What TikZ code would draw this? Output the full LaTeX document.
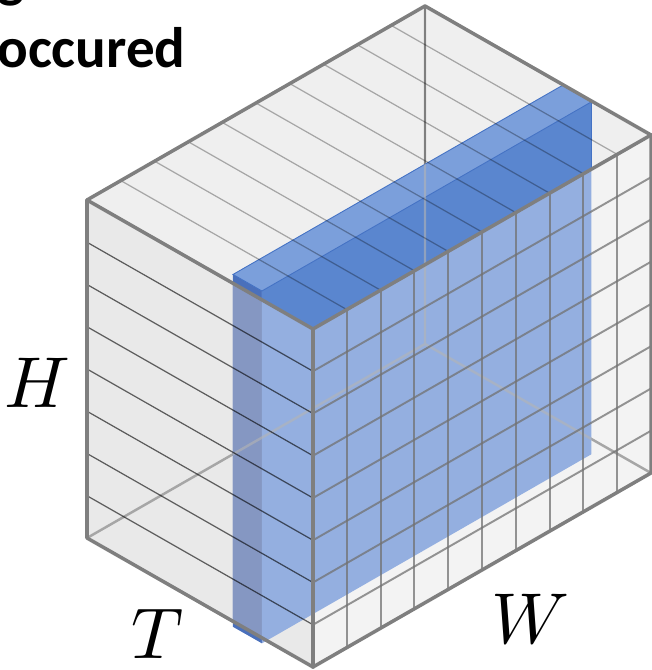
\documentclass[tikz,border=0pt]{standalone}
\usepackage{fontspec}
\usepackage{unicode-math}
\setmathfont{Latin Modern Math}
\newfontfamily\titlefont{Carlito}

\definecolor{edgegray}{HTML}{7F7F7F}
\definecolor{hiddengray}{HTML}{A6A6A6}
\definecolor{hiddenlight}{HTML}{B4B4B4}
\definecolor{leftgray}{HTML}{E9E9E9}
\definecolor{topgray}{HTML}{EFEFEF}
\definecolor{frontgray}{HTML}{F3F3F3}
\definecolor{slabside}{HTML}{4A70BB}
\definecolor{slabsidein}{HTML}{8597C2}
\definecolor{slabtop}{HTML}{7B9FDB}
\definecolor{slabfront}{HTML}{5A86CF}
\definecolor{slabfrontin}{HTML}{94AFE0}
\definecolor{slabrim}{HTML}{4472C4}

\begin{document}
\begin{tikzpicture}[
        x={(0.676cm,0.388cm)},
        y={(4.52cm,-2.58cm)},
        z={(0cm,0.845cm)},
        edge/.style={draw=edgegray, line width=2pt, line join=round, line cap=round},
        hidden/.style={draw=hiddengray, line width=1.4pt},
        leftline/.style={draw=black, draw opacity=0.6, line width=0.7pt},
        topline/.style={draw=black, draw opacity=0.3, line width=0.7pt},
        frontline/.style={draw=edgegray!110, draw opacity=0.75, line width=1.1pt},
        slabedge/.style={draw=slabrim, line width=0.5pt},
        axislabel/.style={font=\fontsize{41}{48}\selectfont, inner sep=0pt},
        titletext/.style={font=\titlefont\bfseries\fontsize{32.5}{40}\selectfont, inner sep=0pt}]

    \useasboundingbox (-1.74cm,-2.64cm) rectangle (11.28cm,10.76cm);

    % Box corners: W along x, T along y, H along z
    \coordinate (bl) at (0,0,0);
    \coordinate (bb) at (10,0,0);
    \coordinate (br) at (10,1,0);
    \coordinate (bf) at (0,1,0);
    \coordinate (tl) at (0,0,8);
    \coordinate (tb) at (10,0,8);
    \coordinate (tr) at (10,1,8);
    \coordinate (tf) at (0,1,8);

    % Slab corners
    \coordinate (s1) at (0,0.646,8.21);
    \coordinate (s2) at (9.75,0.646,8.21);
    \coordinate (s3) at (9.75,0.774,8.21);
    \coordinate (s4) at (0,0.774,8.21);
    \coordinate (s5) at (0,0.774,-0.13);
    \coordinate (s6) at (0,0.646,-0.13);
    \coordinate (s7) at (9.75,0.774,-0.13);

    % Faces of the box
    \fill[leftgray] (bl) -- (bf) -- (tf) -- (tl) -- cycle;
    \fill[topgray] (tl) -- (tb) -- (tr) -- (tf) -- cycle;
    \fill[frontgray] (bf) -- (br) -- (tr) -- (tf) -- cycle;

    % Hidden edges
    \draw[hidden] (bl) -- (bb) -- (br) (bb) -- (tb);
    \begin{scope}
        \clip (tl) -- (tb) -- (tr) -- (tf) -- cycle;
        \draw[hidden, draw=edgegray] (bb) -- (tb);
    \end{scope}

    % Slab
    \fill[slabside] (s1) -- (s4) -- (s5) -- (s6) -- cycle;
    \begin{scope}
        \clip (bl) -- (bf) -- (tf) -- (tl) -- cycle;
        \fill[slabsidein] (s1) -- (s4) -- (s5) -- (s6) -- cycle;
    \end{scope}
    \fill[slabfrontin] (s4) -- (s3) -- (s7) -- (s5) -- cycle;
    \begin{scope}
        \clip (tl) -- (tb) -- (tr) -- (tf) -- cycle;
        \fill[slabfront] (s4) -- (s3) -- (s7) -- (s5) -- cycle;
        \draw[slabedge] (s3) -- (s7);
    \end{scope}
    \filldraw[fill=slabtop, slabedge] (s1) -- (s2) -- (s3) -- (s4) -- cycle;

    % Hidden edges seen through the slab
    \begin{scope}
        \clip (s1) -- (s2) -- (s3) -- (s7) -- (s5) -- (s6) -- cycle;
        \draw[hidden, draw=hiddenlight, draw opacity=0.6] (bl) -- (bb) -- (br) (bb) -- (tb);
    \end{scope}

    % Grid lines
    \foreach \h in {1,...,7} {
        \draw[leftline] (0,0,\h) -- (0,1,\h);
        \draw[frontline] (0,1,\h) -- (10,1,\h);
    }
    \foreach \w in {1,...,9} {
        \draw[topline] (\w,0,8) -- (\w,1,8);
        \draw[frontline] (\w,1,0) -- (\w,1,8);
    }

    % Outer edges
    \draw[edge] (tl) -- (tb) -- (tr) -- (tf) -- cycle;
    \draw[edge] (tl) -- (bl) -- (bf) -- (br) -- (tr);
    \draw[edge] (tf) -- (bf);

    % Labels
    \node[axislabel] (hlabel) at (-1.0cm,3.1cm) {$H$};
    \node[axislabel] (tlabel) at (1.42cm,-1.92cm) {$T$};
    \node[axislabel] (wlabel) at (8.86cm,-1.64cm) {$W$};

    % Caption, cut off at the top
    \node[titletext, anchor=base west] (title2) at (-1.80cm,9.40cm) {occured};
    \node[titletext, anchor=base west] (title1) at (-1.80cm,10.83cm) {g};
\end{tikzpicture}
\end{document}
